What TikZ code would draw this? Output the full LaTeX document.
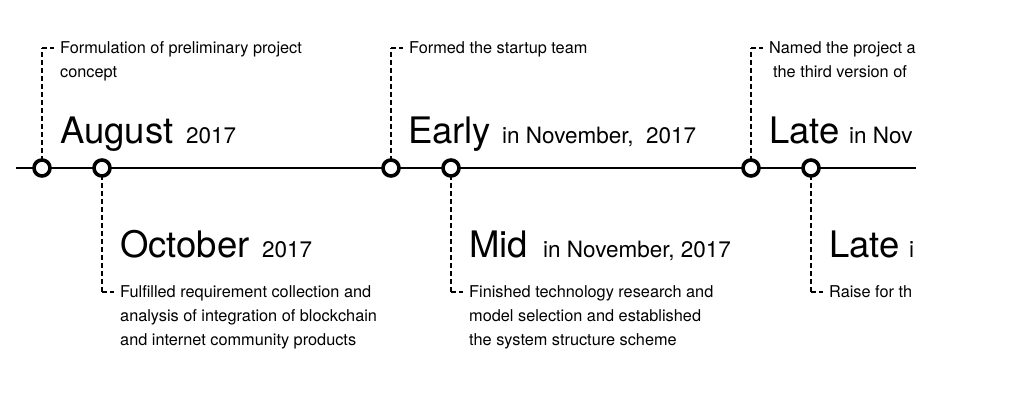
\documentclass[tikz,border=0pt]{standalone}
\usepackage{fontspec}
\setmainfont{TeX Gyre Heros}
\begin{document}
\begin{tikzpicture}[x=1pt,y=-1pt,
  dot/.style={circle,draw=black,line width=3.6pt,fill=white,minimum size=16pt,inner sep=0pt},
  lead/.style={line width=1.5pt,dash pattern=on 5pt off 3pt},
  small/.style={anchor=base west,inner sep=0pt,font=\fontsize{16.3}{18}\selectfont},
  big/.style={anchor=base west,inner sep=0pt,font=\fontsize{36.5}{40}\selectfont},
  mid/.style={anchor=base west,inner sep=0pt,font=\fontsize{22.5}{26}\selectfont}]
\useasboundingbox (0,0) rectangle (1022,409);
\begin{scope}
\clip (0,0) rectangle (916,409);
\coordinate (L0) at (16,168);
\coordinate (L1) at (916,168);
\draw[line width=2pt] (L0) -- (L1);
\foreach \n/\x in {a/42,c/391,e/751}{
  \coordinate (\n t) at (\x,48);
  \coordinate (\n h) at (\x+12,48);
  \draw[lead] (\n t) -- (\n h);
  \draw[lead] (\x,161) -- (\n t);
}
\foreach \n/\x in {b/102,d/451,f/811}{
  \coordinate (\n t) at (\x,292);
  \coordinate (\n h) at (\x+12,292);
  \draw[lead] (\n t) -- (\n h);
  \draw[lead] (\x,175) -- (\n t);
}
\node[dot] (a) at (42,168) {};
\node[dot] (b) at (102,168) {};
\node[dot] (c) at (391,168) {};
\node[dot] (d) at (451,168) {};
\node[dot] (e) at (751,168) {};
\node[dot] (f) at (811,168) {};
\node[small] (ta1) at (60,54) {Formulation of preliminary project};
\node[small] (ta2) at (60,78) {concept};
\node[big] (ha) at (60,143) {August};
\node[mid] (ya) at (186,143) {2017};
\node[big] (hb) at (120,257) {October};
\node[mid] (yb) at (262,257) {2017};
\node[small] (tb1) at (120,297) {Fulfilled requirement collection and};
\node[small] (tb2) at (120,321) {analysis of integration of blockchain};
\node[small] (tb3) at (120,345) {and internet community products};
\node[small] (tc1) at (409,54) {Formed the startup team};
\node[big] (hc) at (408,143) {Early};
\node[mid] (yc) at (502,143) {in November,\ \ 2017};
\node[big] (hd) at (469,257) {Mid};
\node[mid] (yd) at (543,257) {in November, 2017};
\node[small] (td1) at (469,297) {Finished technology research and};
\node[small] (td2) at (469,321) {model selection and established};
\node[small] (td3) at (469,345) {the system structure scheme};
\node[small] (te1) at (769,54) {Named the project a};
\node[small] (te2) at (773,78) {the third version of};
\node[big] (he) at (769,143) {Late};
\node[mid] (ye) at (849,143) {in Nov};
\node[big] (hf) at (829,257) {Late};
\node[mid] (yf) at (909,257) {i};
\node[small] (tf1) at (829,297) {Raise for th};
\end{scope}
\end{tikzpicture}
\end{document}
